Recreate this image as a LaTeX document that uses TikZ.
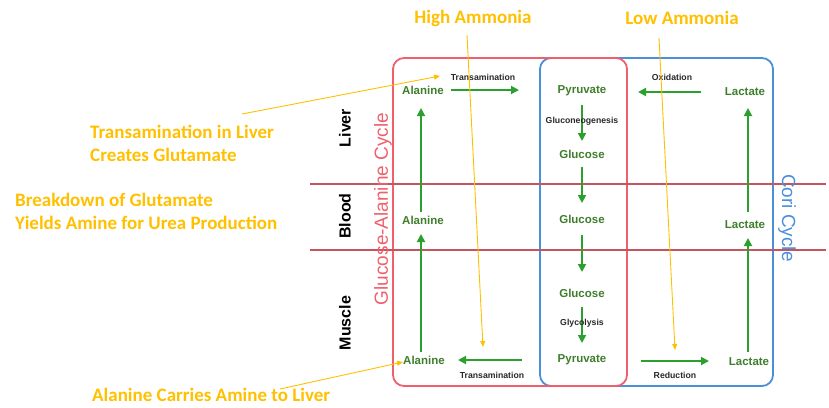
\documentclass[tikz,border=0pt]{standalone}
\usepackage{fontspec}
\setmainfont{Liberation Sans}
\newfontfamily\orfont{Carlito}
\usetikzlibrary{arrows.meta,calc}
\definecolor{cred}{RGB}{240,96,108}
\definecolor{cblue}{RGB}{74,144,217}
\definecolor{lred}{RGB}{196,84,94}
\definecolor{tgreen}{RGB}{62,126,44}
\definecolor{agreen}{RGB}{44,160,44}
\definecolor{gold}{RGB}{255,192,0}
\definecolor{dgray}{RGB}{40,40,40}
\tikzset{
  mol/.style={inner sep=0pt, text=tgreen, font=\fontsize{11.5}{13}\selectfont\bfseries},
  small/.style={inner sep=0pt, text=dgray, font=\fontsize{8.7}{10}\selectfont\bfseries},
  organ/.style={inner sep=0pt, rotate=90, font=\fontsize{16}{18}\selectfont\bfseries},
  cyc/.style={inner sep=0pt, font=\fontsize{19}{21}\selectfont},
  ann/.style={inner sep=0pt, text=gold, align=left, font=\orfont\fontsize{19}{23}\selectfont\bfseries},
  garrow/.style={draw=agreen, line width=1.8pt, -{Triangle[length=8pt,width=8pt]}},
  oarrow/.style={draw=gold, line width=0.9pt, -{Triangle[length=6pt,width=5pt]}},
  cycbox/.style={line width=1.8pt, rounded corners=11pt},
  zone/.style={draw=lred, line width=1.1pt}
}
\begin{document}
\begin{tikzpicture}[x=1pt,y=-1pt]
\useasboundingbox (0,0) rectangle (829,407);
% cycle boxes
\draw[cycbox, draw=cblue] (540,58) rectangle (773,386);
\draw[cycbox, draw=cred] (393,58) rectangle (627,386);
% zone lines
\coordinate (z1a) at (310,184); \coordinate (z1b) at (826,184);
\coordinate (z2a) at (310,250); \coordinate (z2b) at (826,250);
\draw[zone] (z1a) -- (z1b);
\draw[zone] (z2a) -- (z2b);
% organ labels
\node[organ] (liver) at (345,128) {Liver};
\node[organ] (blood) at (345,216) {Blood};
\node[organ] (muscle) at (345,323) {Muscle};
% cycle names
\node[cyc, text=cred, rotate=90] (gac) at (383,209) {Glucose-Alanine Cycle};
\node[cyc, text=cblue, rotate=-90] (cori) at (787,218) {Cori Cycle};
% molecules
\node[mol] (ala1) at (423,90) {Alanine};
\node[mol] (pyr1) at (582,91) {Pyruvate};
\node[mol] (lac1) at (745,92) {Lactate};
\node[mol] (glu1) at (582,154) {Glucose};
\node[mol] (ala2) at (423,220) {Alanine};
\node[mol] (glu2) at (582,219) {Glucose};
\node[mol] (lac2) at (745,225) {Lactate};
\node[mol] (glu3) at (582,293) {Glucose};
\node[mol] (ala3) at (424,360) {Alanine};
\node[mol] (pyr2) at (582,360) {Pyruvate};
\node[mol] (lac3) at (749,362) {Lactate};
% green arrows
\draw[garrow, shorten <=28pt, shorten >=63pt] (ala1.center) -- (ala1.center -| pyr1.center);
\draw[garrow, shorten <=44pt, shorten >=56pt] (lac1.center) -- (lac1.center -| pyr1.center);
\draw[garrow, shorten <=14pt, shorten >=13pt] (pyr1.center) -- (glu1.center);
\draw[garrow, shorten <=13pt, shorten >=16pt] (glu1.center) -- (glu2.center);
\draw[garrow, shorten <=16pt, shorten >=21pt] (glu2.center) -- (glu3.center);
\draw[garrow, shorten <=14pt, shorten >=17pt] (glu3.center) -- (pyr2.center);
\draw[garrow, shorten <=60pt, shorten >=34pt] (pyr2.center) -- (pyr2.center -| ala3.center);
\draw[garrow, shorten <=59pt, shorten >=40pt] ([yshift=-1pt]pyr2.center) -- ([yshift=-1pt]pyr2.center -| lac3.center);
\draw[garrow, shorten <=8pt, shorten >=14pt] ([xshift=-3pt]ala3.center) -- ([xshift=-2pt]ala2.center);
\draw[garrow, shorten <=8pt, shorten >=18pt] ([xshift=-2pt]ala2.center) -- ([xshift=-2pt]ala1.center);
\draw[garrow, shorten <=10pt, shorten >=13pt] ([xshift=-1pt]lac3.center) -- ([xshift=3pt]lac2.center);
\draw[garrow, shorten <=13pt, shorten >=16pt] ([xshift=3pt]lac2.center) -- ([xshift=3pt]lac1.center);
% process labels
\node[small] (tr1) at (483,77) {Transamination};
\node[small] (ox) at (672,77) {Oxidation};
\node[small] (gng) at (582,121) {Gluconeogenesis};
\node[small] (gly) at (582,323) {Glycolysis};
\node[small] (tr2) at (492,375) {Transamination};
\node[small] (red) at (675,375) {Reduction};
% annotations
\node[ann] (hi) at (473,18) {High Ammonia};
\node[ann] (lo) at (682,18) {Low Ammonia};
\node[ann, anchor=west] (tl) at (90,143.5) {Transamination in Liver\\Creates Glutamate};
\node[ann, anchor=west] (bg) at (15,211.5) {Breakdown of Glutamate\\Yields Amine for Urea Production};
\node[ann, anchor=west] (ac) at (92,395) {Alanine Carries Amine to Liver};
\coordinate (hiTip) at (483,347);
\coordinate (loTip) at (675,350);
\coordinate (tlTip) at (440,76);
\coordinate (acTip) at (403,362);
\draw[oarrow] ($(hi.center)+(-6,17)$) -- (hiTip);
\draw[oarrow] ($(lo.center)+(-23,20)$) -- (loTip);
\draw[oarrow] ($(tl.west)+(152,-29.5)$) -- (tlTip);
\draw[oarrow] ($(ac.west)+(188,-6)$) -- (acTip);
\end{tikzpicture}
\end{document}
